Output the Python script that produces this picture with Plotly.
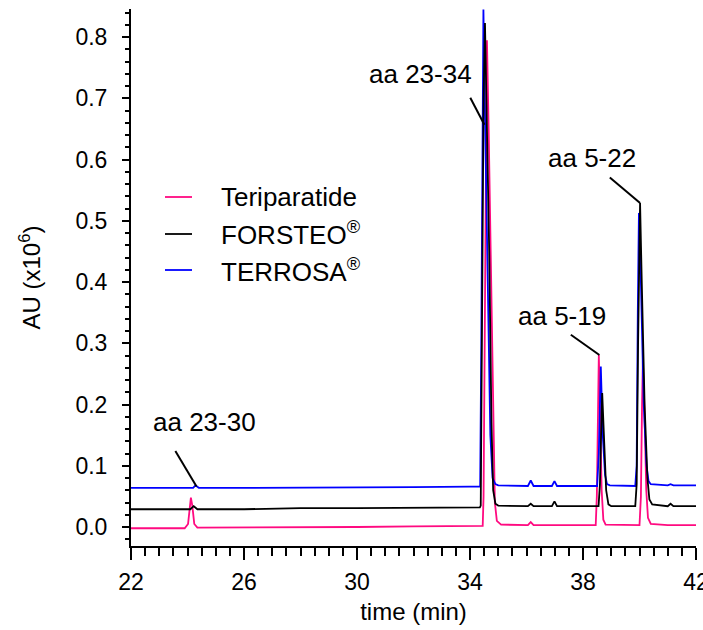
import plotly.graph_objects as go

# ---- data (time in min, AU x10^6) ----
t_teri = [22.0, 23.0, 23.9, 24.02, 24.08, 24.12, 24.17, 24.24, 24.35, 26.0, 28.0, 30.0, 32.0, 34.0, 34.45,
          34.48, 34.53, 34.57, 34.60, 34.66, 34.74, 34.82, 34.88, 34.95, 35.1,
          36.05, 36.15, 36.25, 37.0, 38.45,
          38.49, 38.53, 38.56, 38.60, 38.66, 38.72, 38.8,
          40.0, 40.05, 40.09, 40.12, 40.17, 40.24, 40.30, 40.4, 41.0, 42.0]
v_teri = [-0.002, -0.002, -0.002, 0.005, 0.035, 0.048, 0.035, 0.005, -0.001, -0.001, 0.0, 0.0, 0.001, 0.002, 0.002,
          0.05, 0.40, 0.75, 0.795, 0.65, 0.40, 0.15, 0.04, 0.01, 0.004,
          0.003, 0.008, 0.003, 0.003, 0.003,
          0.05, 0.22, 0.281, 0.20, 0.06, 0.012, 0.004,
          0.003, 0.05, 0.20, 0.272, 0.20, 0.06, 0.015, 0.005, 0.003, 0.003]

t_forsteo = [22.0, 23.0, 24.1, 24.22, 24.35, 26.0, 28.0, 30.0, 32.0, 34.0, 34.35,
             34.38, 34.43, 34.48, 34.53, 34.58, 34.68, 34.76, 34.82, 34.9, 35.0,
             36.05, 36.15, 36.25, 36.9, 36.99, 37.08, 38.55,
             38.60, 38.64, 38.68, 38.74, 38.82, 38.9, 39.0,
             39.85, 39.90, 39.95, 40.02, 40.08, 40.18, 40.28, 40.35, 40.45,
             41.0, 41.1, 41.2, 42.0]
v_forsteo = [0.029, 0.029, 0.029, 0.034, 0.029, 0.029, 0.031, 0.031, 0.032, 0.033, 0.032,
             0.035, 0.30, 0.70, 0.823, 0.70, 0.45, 0.17, 0.06, 0.038, 0.035,
             0.034, 0.038, 0.034, 0.034, 0.042, 0.034, 0.034,
             0.07, 0.15, 0.219, 0.15, 0.06, 0.037, 0.034,
             0.034, 0.07, 0.30, 0.529, 0.40, 0.20, 0.08, 0.045, 0.037,
             0.034, 0.038, 0.034, 0.034]

t_terrosa = [22.0, 23.0, 24.2, 24.28, 24.4, 26.0, 28.0, 30.0, 32.0, 34.0, 34.36,
             34.40, 34.44, 34.475, 34.52, 34.62, 34.72, 34.8, 34.9, 35.0,
             36.05, 36.15, 36.25, 36.9, 36.99, 37.08, 38.5,
             38.56, 38.63, 38.70, 38.78, 38.85, 38.95,
             39.85, 39.90, 39.94, 39.98, 40.05, 40.15, 40.25, 40.32, 40.4,
             41.0, 41.1, 41.2, 42.0]
v_terrosa = [0.064, 0.064, 0.064, 0.068, 0.064, 0.064, 0.064, 0.065, 0.065, 0.066, 0.066,
             0.30, 0.70, 0.845, 0.70, 0.40, 0.15, 0.08, 0.07, 0.068,
             0.067, 0.076, 0.067, 0.067, 0.075, 0.067, 0.067,
             0.12, 0.262, 0.15, 0.085, 0.07, 0.068,
             0.067, 0.10, 0.35, 0.513, 0.40, 0.20, 0.10, 0.075, 0.07,
             0.068, 0.070, 0.068, 0.068]

series_names = ["Teriparatide", "FORSTEO<sup>®</sup>", "TERROSA<sup>®</sup>"]
series_colors = ["#ff0a80", "#000000", "#0000ff"]

x_label_ticks = [22, 26, 30, 34, 38, 42]          # labelled ticks
x_major_ticks = [22, 24, 26, 28, 30, 32, 34, 36, 38, 40, 42]  # long ticks

peak_labels = ["aa 23-30", "aa 23-34", "aa 5-19", "aa 5-22"]
label_x = [24.6, 32.24, 37.26, 38.32]
label_y = [0.171, 0.740, 0.345, 0.603]
leader_x0 = [23.57, 34.01, 37.57, 38.95]
leader_y0 = [0.124, 0.701, 0.314, 0.571]
leader_x1 = [24.32, 34.51, 38.58, 40.02]
leader_y1 = [0.066, 0.657, 0.281, 0.529]

FONT = "Liberation Sans, Arial, sans-serif"
TICK_FS = 23
TITLE_FS = 24
LABEL_FS = 26

W, H = 703, 630
ML, MR, MT, MB = 131, 7, 9, 84
PW, PH = W - ML - MR, H - MT - MB
XR = [22, 42]

fig = go.Figure()
# draw order: pink, blue, black (black on top)
draw = [(t_teri, v_teri, 0), (t_terrosa, v_terrosa, 2), (t_forsteo, v_forsteo, 1)]
for t, v, i in draw:
    fig.add_trace(go.Scatter(
        x=t, y=v, mode="lines", name=series_names[i],
        line=dict(color=series_colors[i], width=1.8),
        showlegend=False,
    ))

# peak labels with leader lines
for i, lab in enumerate(peak_labels):
    fig.add_shape(type="line", xref="x", yref="y",
                  x0=leader_x0[i], y0=leader_y0[i], x1=leader_x1[i], y1=leader_y1[i],
                  line=dict(color="black", width=2))
    fig.add_annotation(x=label_x[i], y=label_y[i], xref="x", yref="y", text=lab,
                       showarrow=False, font=dict(family=FONT, size=LABEL_FS, color="black"))

# legend (line sample + text), placed in paper coordinates
legend_px_y = [197, 234, 270]
for i, name in enumerate(series_names):
    yp = (H - MB - legend_px_y[i]) / PH
    fig.add_shape(type="line", xref="paper", yref="paper",
                  x0=(165 - ML) / PW, x1=(192 - ML) / PW, y0=yp, y1=yp,
                  line=dict(color=series_colors[i], width=1.8))
    fig.add_annotation(x=(219 - ML) / PW, y=yp, xref="paper", yref="paper",
                       xanchor="left", yanchor="middle", text=name, showarrow=False,
                       font=dict(family=FONT, size=LABEL_FS, color="black"))

fig.update_layout(
    width=W, height=H,
    margin=dict(l=ML, r=MR, t=MT, b=MB),
    paper_bgcolor="white", plot_bgcolor="white",
    font=dict(family=FONT, size=TICK_FS, color="black"),
    showlegend=False,
    xaxis=dict(
        range=XR, showline=True, linecolor="black", linewidth=2,
        showgrid=False, zeroline=False, automargin=False,
        tickmode="array", tickvals=x_label_ticks,
        ticks="outside", ticklen=12, tickwidth=2, tickcolor="black",
        ticklabeloverflow="allow", ticklabelstandoff=2,
        minor=dict(dtick=0.5, tick0=22, ticks="outside", ticklen=8, tickwidth=1.5,
                   tickcolor="black", showgrid=False),
        title=dict(text="time (min)", font=dict(family=FONT, size=TITLE_FS), standoff=10),
        tickfont=dict(family=FONT, size=TICK_FS),
    ),
    xaxis2=dict(
        range=XR, overlaying="x", anchor="y", side="bottom",
        showline=False, showgrid=False, zeroline=False, automargin=False,
        tickmode="array", tickvals=x_major_ticks, showticklabels=False,
        ticks="outside", ticklen=12, tickwidth=2, tickcolor="black",
    ),
    yaxis=dict(
        range=[-0.031, 0.846], showline=True, linecolor="black", linewidth=2,
        showgrid=False, zeroline=False, automargin=False,
        dtick=0.1, tick0=0, tickformat=".1f",
        ticks="outside", ticklen=7, tickwidth=2, tickcolor="black",
        ticklabelstandoff=10,
        minor=dict(dtick=0.02, tick0=0, ticks="outside", ticklen=4, tickwidth=1.5,
                   tickcolor="black", showgrid=False),
        title=dict(text="AU (x10<sup>6</sup>)", font=dict(family=FONT, size=TITLE_FS), standoff=28),
        tickfont=dict(family=FONT, size=TICK_FS),
    ),
)

fig.write_html("out.html", config={"displayModeBar": False},
               post_script="document.body.style.margin='0';")
